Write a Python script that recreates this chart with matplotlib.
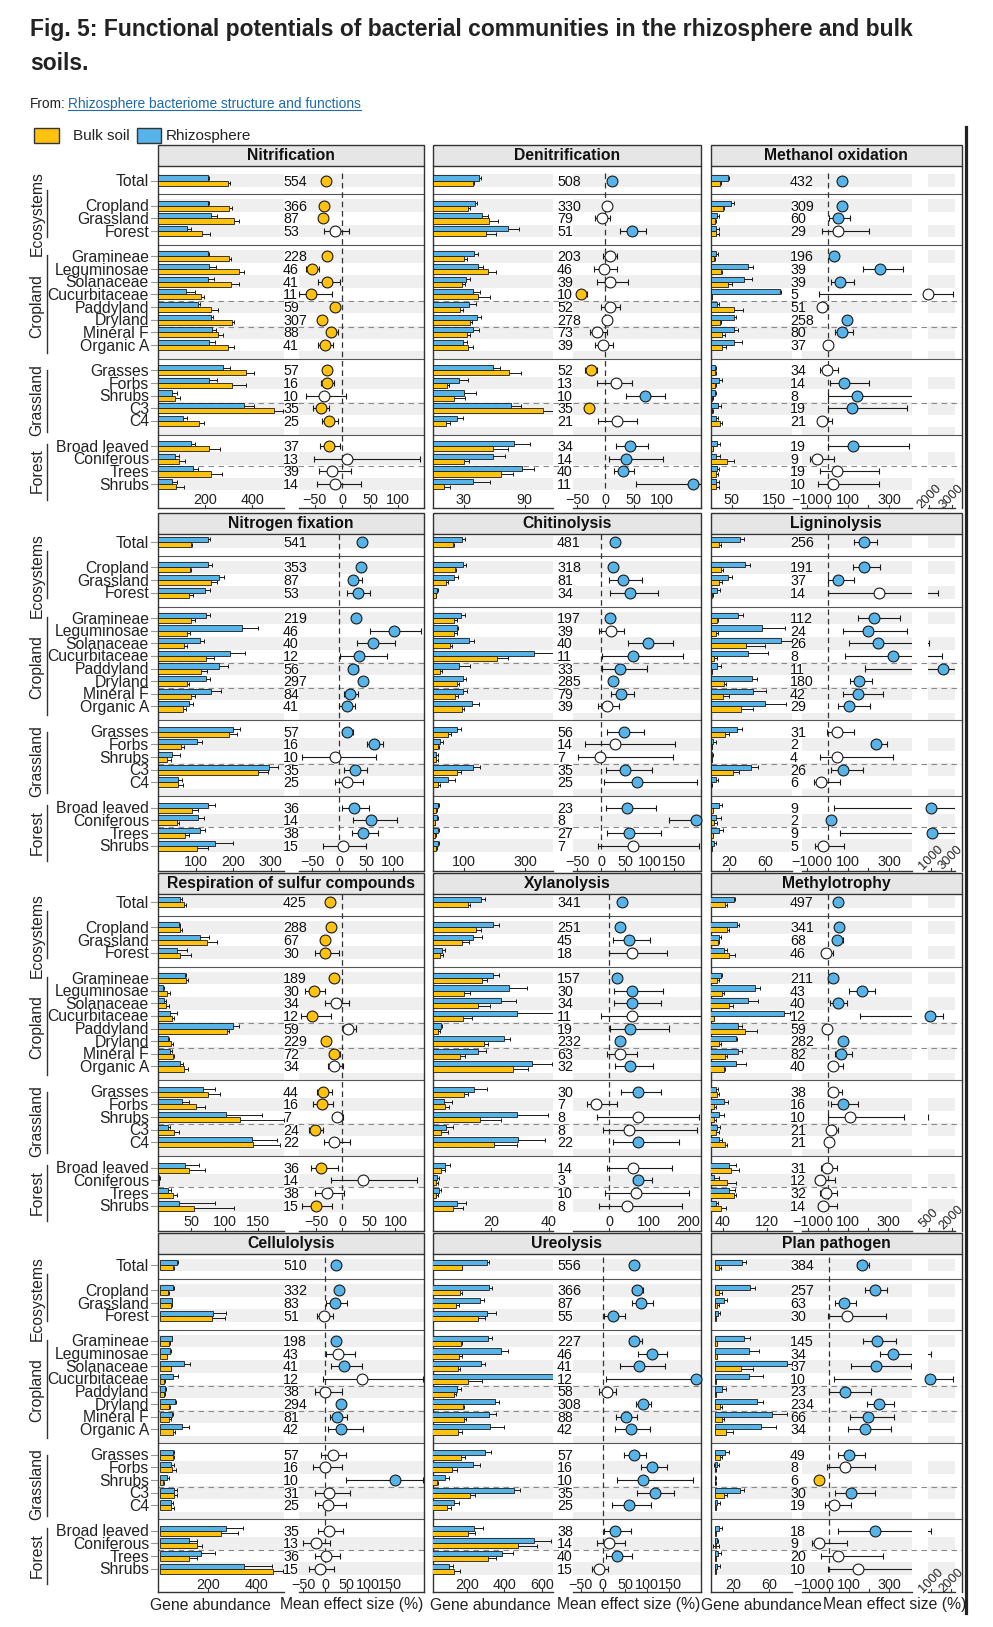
import numpy as np
import matplotlib
matplotlib.use("Agg")
import matplotlib.pyplot as plt
from matplotlib.patches import Rectangle

plt.rcParams["font.family"] = ["Liberation Sans", "DejaVu Sans"]

W, H = 993, 1627
BLUE = "#56B4E9"
GOLD = "#FFC20E"
EDGE = "#1a1a1a"
FRAME = "#333333"
BAND = "#EFEFEF"
STRIP = "#E6E6E6"
LINK = "#1f6aa8"
FILL = {"b": BLUE, "y": GOLD, "w": "white"}

cats = ["Total", "Cropland", "Grassland", "Forest",
        "Gramineae", "Leguminosae", "Solanaceae", "Cucurbitaceae",
        "Paddyland", "Dryland", "Mineral F", "Organic A",
        "Grasses", "Forbs", "Shrubs", "C3", "C4",
        "Broad leaved", "Coniferous", "Trees", "Shrubs"]
ypos = [0, 2, 3, 4, 6, 7, 8, 9, 10, 11, 12, 13, 15, 16, 17, 18, 19, 21, 22, 23, 24]
groups = ["Ecosystems", "Cropland", "Grassland", "Forest"]

# ---- Nitrification
nitri_rz = [214, 214, 225, 125, 210, 218, 214, 118, 169, 224, 228, 218, 275, 217, 59, 363, 108, 139, 70, 148, 59]
nitri_rz_se = [4, 4, 27, 14, 8, 27, 25, 37, 10, 11, 18, 24, 31, 35, 21, 45, 14, 18, 21, 20, 21]
nitri_bk = [296, 303, 320, 186, 299, 345, 310, 183, 225, 315, 256, 296, 372, 315, 73, 492, 172, 218, 87, 225, 77]
nitri_bk_se = [10, 10, 25, 35, 11, 20, 35, 14, 31, 8, 18, 24, 35, 56, 21, 39, 24, 45, 28, 45, 34]
nitri_n = [554, 366, 87, 53, 228, 46, 41, 11, 59, 307, 88, 41, 57, 16, 10, 35, 25, 37, 13, 39, 14]
nitri_eff = [-30, -33, -35, -14, -28, -54, -28, -57, -14, -36, -20, -31, -27, -27, -33, -39, -24, -24, 9, -19, -14]
nitri_lo = [-32, -35, -37, -33, -30, -65, -44, -78, -16, -38, -23, -44, -29, -38, -65, -53, -36, -40, -51, -42, -45]
nitri_hi = [-28, -31, -33, 12, -26, -42, -5, -19, -12, -34, -8, -17, -25, -15, 7, -24, -8, -5, 140, 16, 34]
nitri_sig = "yyywyyyyyyyyyywyyywww"

# ---- Denitrification
den_rz = [45.6, 41.3, 47.9, 74, 40.6, 44.5, 32, 39, 35.4, 43, 39, 29.8, 58.7, 25.6, 30.8, 76.7, 23.3, 80, 58.7, 87.2, 39]
den_rz_se = [2, 2, 6, 11, 4, 5, 4, 7, 7, 4, 6, 4, 7, 8.5, 11, 10, 6.6, 15, 12, 12.5, 17]
den_bk = [39, 34.7, 55, 51.8, 30.8, 53.8, 28.8, 44.6, 26.9, 36.4, 33.1, 34.7, 75, 13.8, 21, 108.5, 12.5, 59.3, 30.8, 66.9, 11.1]
den_bk_se = [1.6, 2, 8.5, 10, 2.3, 8, 2.6, 11.5, 3, 2.3, 3.3, 4.9, 11.5, 2, 10, 13, 4.3, 14, 5, 12, 5.6]
den_n = [508, 330, 79, 51, 203, 46, 39, 10, 52, 278, 73, 39, 52, 13, 10, 35, 21, 34, 14, 40, 11]
den_eff = [11, 3, -7, 47, 8, -2, 8, -43, 8, 3, -15, -4, -26, 18, 71, -29, 20, 44, 37, 31, 157]
den_lo = [8, -1, -19, 26, -4, -21, -16, -50, -8, -2, -27, -19, -36, -15, 37, -35, -13, 19, 7, 15, 54]
den_hi = [14, 8, 8, 73, 20, 21, 41, -33, 26, 10, 2, 14, -15, 48, 107, -23, 57, 75, 102, 50, 170]
den_sig = "bwwbwwwywwwwywbywbbbb"

# ---- Methanol oxidation
meth_rz = [41, 49, 16, 13.5, 13.5, 89, 79, 164, 16, 55, 55, 55, 9.5, 19, 9.5, 17.5, 13.5, 16, 13.5, 16, 13.5]
meth_rz_se = [2.4, 5.6, 4, 6, 3, 12, 19, 3, 3, 5.6, 9.5, 20, 2, 7, 2, 8, 3, 5.6, 9.5, 3, 6]
meth_bk = [21.6, 29.4, 9.5, 13.5, 8, 24, 41, 3, 55, 21.6, 27, 27, 9.5, 9.5, 4, 4, 21.6, 5, 38, 13.5, 13.5]
meth_bk_se = [2, 2, 2, 6, 2, 2, 9.5, 1, 22, 2, 6, 9, 2, 2, 1, 1, 5.5, 1, 18, 3, 6]
meth_n = [432, 309, 60, 29, 196, 39, 39, 5, 51, 258, 80, 37, 34, 14, 8, 19, 21, 19, 9, 19, 10]
meth_eff = [72, 69, 53, 53, 33, 256, 61, 1935, -25, 97, 69, 4, -4, 82, 145, 121, -25, 123, -50, 45, 28]
meth_lo = [62, 60, 6, -26, 25, 172, 15, -40, -35, 88, 37, -5, -37, 12, 0, 0, -45, 0, -86, -37, -45]
meth_hi = [82, 78, 111, 202, 41, 367, 131, 3060, -15, 106, 123, 13, 53, 202, 420, 386, 20, 399, 33, 250, 250]
meth_sig = "bbbwbbbwwbbwwbbbwbwww"

# ---- Nitrogen fixation
nfix_rz = [133, 133, 162, 124, 127, 224, 112, 193, 162, 128, 142, 82, 199, 104, 38, 295, 53, 133, 106, 112, 153]
nfix_rz_se = [5, 10, 15, 14, 11, 42, 11, 40, 24, 10, 25, 11, 20, 13, 20, 24, 10, 20, 16, 12, 46]
nfix_bk = [87, 84, 140, 82, 89, 76, 69, 128, 115, 76, 89, 66, 188, 60, 25, 266, 53, 91, 51, 72, 104]
nfix_bk_se = [4, 5, 16, 10, 9, 9, 7, 20, 16, 6, 9, 9, 22, 9, 10, 27, 14, 15, 4, 10, 28]
nfix_n = [541, 353, 87, 53, 219, 46, 40, 12, 56, 297, 84, 41, 57, 16, 10, 35, 25, 36, 14, 38, 15]
nfix_eff = [41, 40, 26, 35, 31, 101, 63, 36, 26, 44, 20, 14, 14, 64, -8, 29, 14, 27, 59, 44, 7]
nfix_lo = [38, 37, 17, 15, 28, 56, 32, 1, 17, 41, 9, 0, 4, 52, -70, 9, -9, 4, 26, 23, -30]
nfix_hi = [44, 43, 41, 56, 34, 151, 103, 89, 35, 47, 35, 29, 26, 80, 68, 51, 43, 54, 106, 71, 49]
nfix_sig = "bbbbbbbbbbbbbbwbwbbbw"

# ---- Chitinolysis
chit_rz = [93, 96, 69, 14, 91, 77, 117, 329, 84, 99, 96, 126, 79, 23, 10, 131, 48, 17, 14, 15, 15]
chit_rz_se = [11, 10, 13, 3, 13, 5, 17, 78, 36, 8, 13, 24, 12, 11, 5, 22, 24, 2, 2, 4, 4]
chit_bk = [66, 71, 41, 10, 69, 69, 55, 207, 23, 77, 71, 93, 50, 15, 10, 79, 17, 10, 6, 8, 10]
chit_bk_se = [3, 3, 6.5, 1, 7.6, 7.6, 7.6, 38, 5.4, 8.7, 11, 8.7, 8.7, 5, 5, 12, 5, 2, 1, 2, 2]
chit_n = [481, 318, 81, 34, 197, 39, 40, 11, 33, 285, 79, 39, 56, 14, 7, 35, 25, 23, 8, 27, 7]
chit_eff = [28, 25, 44, 60, 18, 20, 96, 66, 39, 25, 40, 11, 48, 29, -3, 49, 73, 53, 196, 57, 66]
chit_lo = [25, 22, 15, 17, 15, -4, 56, 1, 2, 22, 20, -8, 12, -35, -49, 9, 6, 9, 140, 12, -7]
chit_hi = [31, 28, 84, 118, 23, 48, 148, 170, 95, 28, 68, 37, 89, 154, 149, 106, 199, 113, 206, 123, 203]
chit_sig = "bbbbbwbbbbbwbwwbbbbbw"

# ---- Ligninolysis
lig_rz = [32, 38, 18.5, 7, 30, 56, 77, 41, 7, 45, 46, 60, 29, 3, 1.5, 44, 5.5, 9.4, 5.5, 9.4, 3.5]
lig_rz_se = [4.7, 5.5, 4.4, 2.9, 5, 26, 12, 22.5, 4.7, 6, 14.5, 23, 5.5, 3.3, 1, 8.4, 2.5, 3.3, 5.5, 4.4, 1.8]
lig_bk = [9.4, 11, 9, 1.7, 7, 6, 39, 4, 1, 14.5, 13.5, 33, 15.6, 1, 1, 25, 0.5, 2, 3.5, 2, 1]
lig_bk_se = [1.8, 2.5, 3.6, 1, 1, 2.2, 21, 2.9, 0.5, 2.5, 6.5, 13, 4.4, 0.5, 0.5, 6.5, 0.5, 1, 3.6, 1, 0.5]
lig_n = [256, 191, 37, 14, 112, 24, 26, 8, 11, 180, 42, 29, 31, 2, 4, 26, 6, 9, 2, 9, 5]
lig_eff = [178, 178, 53, 253, 228, 196, 245, 321, 2170, 154, 150, 106, 45, 235, 45, 74, -33, 1000, 16, 1130, -20]
lig_lo = [129, 123, 4, 0, 150, 77, 106, 83, 185, 110, 77, 53, -3, 212, -36, 15, -65, 33, 10, 61, -61]
lig_hi = [240, 256, 131, 1730, 352, 386, 840, 2070, 3400, 219, 269, 208, 127, 292, 321, 171, 61, 3400, 22, 3400, 81]
lig_sig = "bbbwbbbbbbbbwbwbwbbbw"

# ---- Respiration of sulfur compounds
resp_rz = [33.5, 31, 62.5, 28.5, 40, 7, 9.5, 18.5, 112, 15, 18.5, 32.5, 67, 36, 102, 14.5, 141, 40, 2, 15, 31]
resp_rz_se = [2.5, 2.5, 13.5, 15, 2.5, 1.5, 2.5, 10, 9, 2, 2.5, 5, 18, 10, 54, 4, 37.5, 22, 0.5, 4.5, 54]
resp_bk = [38.5, 33.5, 73.5, 33.5, 42, 13.5, 12.5, 21, 103.5, 20, 22, 38.5, 74.5, 57, 123.5, 24.5, 142.5, 46, 1.5, 22.5, 54.5]
resp_bk_se = [3.5, 2.5, 15, 16.5, 3, 4, 3.5, 2.5, 3, 2.5, 2.5, 6, 19, 13, 66, 6.5, 40, 24, 0.5, 6, 59]
resp_n = [425, 288, 67, 30, 189, 30, 34, 12, 59, 229, 72, 34, 44, 16, 7, 24, 22, 36, 14, 38, 15]
resp_eff = [-24, -22, -33, -32, -16, -53, -13, -58, 11, -31, -16, -16, -36, -38, -10, -52, -16, -40, 38, -29, -49]
resp_lo = [-26, -24, -35, -51, -18, -70, -33, -79, 1, -33, -24, -28, -48, -55, -20, -63, -35, -60, -22, -52, -76]
resp_hi = [-22, -20, -31, -7, -14, -33, 13, -21, 25, -29, -5, 1, -20, -18, 1, -36, 15, -8, 141, 3, -20]
resp_sig = "yyyyyywywyywyywywywwy"

# ---- Xylanolysis
xyl_rz = [16.6, 20.8, 13.7, 3.2, 20.8, 26.3, 23.4, 28.9, 2.6, 24.5, 15.4, 34, 14.2, 3.9, 29.1, 4.5, 29.4, 4.1, 1.4, 1.9, 8.2]
xyl_rz_se = [1.4, 2, 3.3, 1.1, 2, 6, 5.4, 13.8, 0.4, 2, 2.9, 6.9, 4.6, 2.8, 10.5, 2.5, 9.4, 1.7, 0.6, 0.8, 3.2]
xyl_bk = [12, 15, 9.9, 2.4, 17, 10.8, 15.4, 10.2, 1.8, 17.7, 9.3, 27.7, 10.8, 4.1, 16.2, 2.8, 21.1, 2.8, 1, 1, 7]
xyl_bk_se = [0.8, 1.5, 2.6, 1.1, 1.7, 2, 4.3, 3.4, 0.6, 1.4, 1.7, 5.2, 1.4, 1.4, 7.2, 2.5, 8, 1.4, 0.6, 0.6, 3.4]
xyl_n = [341, 251, 45, 18, 157, 30, 34, 11, 19, 232, 63, 32, 30, 7, 8, 8, 22, 14, 3, 10, 8]
xyl_eff = [31, 27, 50, 58, 20, 58, 58, 56, 52, 27, 27, 52, 71, -34, 71, 49, 71, 60, 71, 66, 44]
xyl_lo = [28, 24, 10, -1, 15, 12, 12, -22, 1, 23, -6, 14, 28, -56, -32, -16, 8, -7, 60, -11, -27]
xyl_hi = [34, 30, 103, 145, 26, 136, 130, 240, 151, 31, 69, 111, 130, 18, 227, 220, 176, 159, 107, 201, 183]
xyl_sig = "bbbwbbbwbbwbbwwwbwbww"

# ---- Methylotrophy
mety_rz = [61, 65, 34, 43, 37, 97, 86, 150, 67, 64, 67, 64, 28, 42, 33, 30, 34, 52, 24, 51, 28]
mety_rz_se = [1.2, 4.8, 2.4, 5.4, 2.4, 10, 18, 10, 7, 2.4, 7, 18, 3.6, 7, 10, 4.8, 4.2, 12, 9, 11, 3]
mety_bk = [44, 47, 31, 52, 30, 39, 52, 24, 80, 34, 44, 42, 30, 24, 24, 28, 44, 55.6, 47, 60, 37]
mety_bk_se = [3, 4.8, 3, 10, 3.6, 3.6, 7, 1, 21, 2.4, 4.2, 3, 4.2, 4.2, 4.8, 4.8, 3, 13, 16, 3, 9]
mety_n = [497, 341, 68, 46, 211, 43, 40, 12, 59, 282, 82, 40, 38, 16, 10, 21, 21, 31, 12, 32, 14]
mety_eff = [47, 53, 42, -12, 22, 167, 50, 540, -8, 72, 63, 25, 25, 72, 108, 15, 5, -5, -42, -12, -28]
mety_lo = [43, 49, 25, -33, 18, 105, 8, 158, -12, 68, 33, 0, 0, 12, 0, -7, -3, -38, -66, -42, -50]
mety_hi = [51, 57, 72, 25, 26, 233, 92, 1430, -4, 76, 117, 75, 67, 150, 378, 50, 13, 45, 33, 42, 42]
mety_sig = "bbbwbbbbwbbwwbwwwwwww"

# ---- Cellulolysis
cel_rz = [69, 55, 48, 221, 48, 41, 99, 52, 21, 62, 48, 90, 52, 46, 30, 58, 44, 272, 121, 170, 349]
cel_rz_se = [4, 3, 3, 51, 3, 3, 25, 21, 3, 3, 7, 28, 5.5, 10, 7, 11, 8, 73, 30, 58, 113]
cel_bk = [55, 34, 44, 217, 37, 28, 44, 17, 17, 39, 39, 52, 52, 48, 14, 58, 46, 252, 152, 121, 466]
cel_bk_se = [4, 3, 4, 50, 3, 3, 3, 3, 3, 3, 5, 10, 7, 20, 4, 14, 12, 72, 23, 30, 44]
cel_n = [510, 332, 83, 51, 198, 43, 41, 12, 38, 294, 81, 42, 57, 16, 10, 31, 25, 35, 13, 36, 15]
cel_eff = [25, 33, 23, -2, 25, 31, 44, 86, 0, 37, 27, 38, 18, 0, 162, 10, 8, 9, -21, 2, -12]
cel_lo = [22, 30, 2, -19, 22, 2, 14, -4, -23, 34, 12, 8, -8, -27, 48, -23, -17, -15, -50, -22, -37]
cel_hi = [28, 36, 50, 19, 28, 69, 86, 227, 40, 40, 50, 88, 48, 40, 227, 58, 48, 42, 12, 35, 22]
cel_sig = "bbbwbwbwwbbbwwbwwwwww"

# ---- Ureolysis
ure_rz = [309, 318, 268, 309, 313, 382, 276, 681, 148, 349, 318, 323, 295, 235, 84, 451, 131, 237, 561, 388, 105]
ure_rz_se = [9, 16, 23, 45, 23, 40, 22, 40, 23, 22, 36, 74, 36, 38, 22, 32, 27, 52, 90, 60, 23]
ure_bk = [172, 163, 142, 262, 168, 160, 151, 204, 130, 180, 185, 151, 171, 121, 40, 219, 94, 204, 471, 313, 131]
ure_bk_se = [5, 9, 14, 36, 7, 13, 13, 76, 14, 5, 13, 22, 22, 29, 9, 25, 23, 40, 103, 45, 31]
ure_n = [556, 366, 87, 55, 227, 46, 41, 12, 58, 308, 88, 42, 57, 16, 10, 35, 25, 38, 14, 40, 15]
ure_eff = [71, 76, 86, 24, 71, 111, 82, 209, 9, 91, 52, 64, 70, 110, 91, 117, 58, 28, 14, 33, -8]
ure_lo = [68, 65, 66, 2, 58, 79, 38, 7, -8, 75, 29, 28, 47, 85, 33, 78, 20, 2, -13, 8, -25]
ure_hi = [74, 91, 112, 49, 89, 145, 139, 219, 30, 108, 78, 106, 98, 145, 204, 160, 108, 63, 49, 65, 12]
ure_sig = "bbbbbbbbwbbbbbbbbbwbw"

# ---- Plan pathogen
pp_rz = [30, 39, 10, 2.6, 32, 37, 80, 37, 7, 46, 63, 51, 11, 1.5, 0.3, 28, 2.3, 4.5, 1.5, 3.5, 2.3]
pp_rz_se = [4, 5, 3.3, 2.6, 7, 12, 5.5, 16, 5.5, 6.7, 17, 17, 4.4, 3, 0.3, 4.4, 3, 3.3, 2, 3, 3]
pp_bk = [4.5, 4.5, 2.3, 0.5, 1.5, 1.5, 29, 0.5, 0.5, 5.5, 7, 12, 5.5, 0.3, 0.3, 10, 0.5, 0.5, 1, 0.5, 0.5]
pp_bk_se = [1.5, 2.6, 2.2, 0.3, 0.5, 0.5, 13, 0.3, 0.3, 1.8, 2.6, 8, 2.6, 0.3, 0.3, 3.3, 0.3, 0.3, 3, 0.3, 0.3]
pp_n = [384, 257, 63, 30, 145, 34, 37, 10, 23, 234, 66, 34, 49, 8, 6, 30, 19, 18, 9, 20, 10]
pp_eff = [167, 230, 75, 92, 238, 322, 233, 950, 80, 252, 197, 182, 102, 80, -48, 108, 27, 230, -50, 47, 147]
pp_lo = [138, 180, 30, -3, 172, 255, 108, 27, 0, 192, 107, 93, 45, -8, -48, 30, -22, 45, -83, -38, -3]
pp_hi = [202, 288, 135, 285, 333, 985, 410, 2115, 212, 325, 327, 310, 182, 230, -48, 230, 108, 985, 88, 270, 425]
pp_sig = "bbbwbbbbbbbbbwybwbwww"

panels = [
    ("Nitrification", nitri_rz, nitri_rz_se, nitri_bk, nitri_bk_se, nitri_n, nitri_eff, nitri_lo, nitri_hi, nitri_sig),
    ("Denitrification", den_rz, den_rz_se, den_bk, den_bk_se, den_n, den_eff, den_lo, den_hi, den_sig),
    ("Methanol oxidation", meth_rz, meth_rz_se, meth_bk, meth_bk_se, meth_n, meth_eff, meth_lo, meth_hi, meth_sig),
    ("Nitrogen fixation", nfix_rz, nfix_rz_se, nfix_bk, nfix_bk_se, nfix_n, nfix_eff, nfix_lo, nfix_hi, nfix_sig),
    ("Chitinolysis", chit_rz, chit_rz_se, chit_bk, chit_bk_se, chit_n, chit_eff, chit_lo, chit_hi, chit_sig),
    ("Ligninolysis", lig_rz, lig_rz_se, lig_bk, lig_bk_se, lig_n, lig_eff, lig_lo, lig_hi, lig_sig),
    ("Respiration of sulfur compounds", resp_rz, resp_rz_se, resp_bk, resp_bk_se, resp_n, resp_eff, resp_lo, resp_hi, resp_sig),
    ("Xylanolysis", xyl_rz, xyl_rz_se, xyl_bk, xyl_bk_se, xyl_n, xyl_eff, xyl_lo, xyl_hi, xyl_sig),
    ("Methylotrophy", mety_rz, mety_rz_se, mety_bk, mety_bk_se, mety_n, mety_eff, mety_lo, mety_hi, mety_sig),
    ("Cellulolysis", cel_rz, cel_rz_se, cel_bk, cel_bk_se, cel_n, cel_eff, cel_lo, cel_hi, cel_sig),
    ("Ureolysis", ure_rz, ure_rz_se, ure_bk, ure_bk_se, ure_n, ure_eff, ure_lo, ure_hi, ure_sig),
    ("Plan pathogen", pp_rz, pp_rz_se, pp_bk, pp_bk_se, pp_n, pp_eff, pp_lo, pp_hi, pp_sig),
]

# axis limits / ticks of each panel
SEG1 = [-100, 0, 100, 200, 300]
axes_set = [
    dict(bar=(0, 534), bt=[200, 400], dot=(-78, 147), dt=[-50, 0, 50, 100]),
    dict(bar=(0, 118), bt=[30, 90], dot=(-58, 169.6), dt=[-50, 0, 50, 100]),
    dict(bar=(0, 192), bt=[50, 150], dot=(-126, 411), dt=SEG1, seg2=(1920, 3147), st=[2000, 3000]),
    dict(bar=(0, 336), bt=[100, 200, 300], dot=(-75, 157), dt=[-50, 0, 50, 100]),
    dict(bar=(0, 390), bt=[100, 300], dot=(-59, 206), dt=[-50, 0, 50, 100, 150]),
    dict(bar=(0, 89), bt=[20, 60], dot=(-126, 411), dt=SEG1, seg2=(650, 3400), st=[1000, 3000]),
    dict(bar=(0, 189), bt=[50, 100, 150], dot=(-82, 154), dt=[-50, 0, 50, 100]),
    dict(bar=(0, 41.4), bt=[20, 40], dot=(-92, 230), dt=[0, 100, 200]),
    dict(bar=(18.5, 163.6), bt=[40, 120], dot=(-133, 417), dt=SEG1, seg2=(373, 2207), st=[500, 2000]),
    dict(bar=(-8.3, 513), bt=[200, 400], dot=(-60, 229), dt=[-50, 0, 50, 100, 150]),
    dict(bar=(20, 660), bt=[200, 400, 600], dot=(-67, 220), dt=[-50, 0, 50, 100, 150]),
    dict(bar=(-5, 85), bt=[20, 60], dot=(-136.5, 413.5), dt=SEG1, seg2=(825, 2200), st=[1000, 2000]),
]

# layout in pixels
U = 12.65
STRIP_H = 20.5
ROW_TOP = [145, 513, 873, 1233]
ROW_Y0 = [180.5, 542, 902, 1265]
ROW_BOT = [508, 871, 1231, 1592]
COLS = [
    dict(left=158, right=424, bar=(158, 284), dot=(299, 424), num=283),
    dict(left=433, right=700.5, bar=(433, 553), dot=(573, 700.5), num=557),
    dict(left=710.5, right=962, bar=(710.7, 791.7), dot=(801.7, 911.7), seg2=(927.5, 955), num=790),
]
SOLID = [1.1, 5.1, 14.1, 20.1]
DASHED = [9.55, 11.55, 17.55, 22.55]
group_mid = [2.65, 9.9, 17.35, 22.95]
group_span = [(0.75, 4.45), (5.9, 13.65), (15.0, 19.85), (20.8, 25.25)]


def fmt(v):
    return str(v).replace("-", "\u2212")


fig = plt.figure(figsize=(W / 100, H / 100), dpi=100)
bg = fig.add_axes([0, 0, 1, 1])
bg.set_xlim(0, W)
bg.set_ylim(H, 0)
bg.axis("off")


def px_axes(x0, x1, y0, y1):
    ax = fig.add_axes([x0 / W, 1 - y1 / H, (x1 - x0) / W, (y1 - y0) / H])
    ax.axis("off")
    return ax


def ticks(ax, tv, ybot, ylab, rotate=False, skip=()):
    for t in tv:
        ax.plot([t, t], [ybot, ybot - 0.25], color=FRAME, lw=0.8, clip_on=False)
        if t in skip:
            continue
        if rotate:
            ax.text(t, ylab - 0.6, fmt(t), rotation=45, ha="center", va="center",
                    fontsize=9.3, color="#222222", clip_on=False)
        else:
            ax.text(t, ylab, fmt(t), ha="center", va="baseline", fontsize=10.4,
                    color="#222222", clip_on=False)


yy = np.array(ypos, dtype=float)

for k, (title, rz, rz_se, bk, bk_se, nn, eff, lo, hi, sig) in enumerate(panels):
    r, c = divmod(k, 3)
    col = COLS[c]
    lay = axes_set[k]
    st, y0, pb = ROW_TOP[r], ROW_Y0[r], ROW_BOT[r]
    top = st + STRIP_H
    yt, yb = (top - y0) / U, (pb - y0) / U
    ylab = 24 + 20 / U
    left, right = col["left"], col["right"]

    bg.add_patch(Rectangle((left, st), right - left, STRIP_H, fc=STRIP, ec=FRAME, lw=1.0, zorder=3))
    bg.text((left + right) / 2, st + STRIP_H / 2 + 0.5, title, ha="center", va="center",
            fontsize=11.3, fontweight="bold", color="#111111", zorder=4)
    bg.plot([left, left], [top, pb], color=FRAME, lw=1.0, zorder=3)
    bg.plot([right, right], [top, pb], color=FRAME, lw=1.0, zorder=3)

    sections = [col["bar"], col["dot"]] + ([col["seg2"]] if "seg2" in lay else [])
    for u in range(0, 25, 2):
        u1 = u + 0.1 if u in (14, 20) else u + 0.5
        for sx0, sx1 in sections:
            bg.add_patch(Rectangle((sx0, y0 + (u - 0.5) * U), sx1 - sx0, (u1 - u + 0.5) * U,
                                   fc=BAND, ec="none", zorder=1))
    for s in SOLID:
        bg.plot([left, right], [y0 + s * U] * 2, color="#555555", lw=0.8, zorder=2)
    for s in DASHED:
        bg.plot([left, right], [y0 + s * U] * 2, color="#8a8a8a", lw=0.8, ls=(0, (5, 4)), zorder=2)
    for sx0, sx1 in sections:
        bg.plot([sx0, sx1], [pb, pb], color=FRAME, lw=1.0, zorder=3)
    for u, n in zip(ypos, nn):
        bg.text(col["num"], y0 + u * U + 5.0, str(n), ha="left", va="baseline",
                fontsize=10.3, color="#111111", zorder=4)

    # gene abundance bars
    bx = px_axes(col["bar"][0], col["bar"][1], top, pb)
    bx.set_xlim(*lay["bar"])
    bx.set_ylim(yb, yt)
    bx.errorbar(rz, yy - 0.2, xerr=rz_se, fmt="none", ecolor=EDGE, elinewidth=0.7,
                capsize=1.7, capthick=0.7, zorder=2)
    bx.errorbar(bk, yy + 0.2, xerr=bk_se, fmt="none", ecolor=EDGE, elinewidth=0.7,
                capsize=1.7, capthick=0.7, zorder=2)
    bx.barh(yy - 0.2, rz, height=0.4, color=BLUE, edgecolor=EDGE, linewidth=0.6, zorder=3)
    bx.barh(yy + 0.2, bk, height=0.4, color=GOLD, edgecolor=EDGE, linewidth=0.6, zorder=3)
    ticks(bx, lay["bt"], yb, ylab)

    # effect sizes
    d1 = px_axes(col["dot"][0], col["dot"][1], top, pb)
    d1.set_xlim(*lay["dot"])
    d1.plot([0, 0], [-0.6, 24.6], color=FRAME, lw=0.9, ls=(0, (4.5, 3)), zorder=2)
    dots = [d1]
    ticks(d1, lay["dt"], yb, ylab, skip=(200,) if "seg2" in lay else ())
    if "seg2" in lay:
        d2 = px_axes(col["seg2"][0], col["seg2"][1], top, pb)
        d2.set_xlim(*lay["seg2"])
        ticks(d2, lay["st"], yb, ylab, rotate=True)
        dots.append(d2)
    for ax in dots:
        ax.set_ylim(yb, yt)
        xa, xb = ax.get_xlim()
        ax.hlines(yy, lo, hi, color=EDGE, lw=0.8, zorder=3)
        ax.vlines(lo, yy - 0.24, yy + 0.24, color=EDGE, lw=0.8, zorder=3)
        ax.vlines(hi, yy - 0.24, yy + 0.24, color=EDGE, lw=0.8, zorder=3)
        for e, u, s in zip(eff, yy, sig):
            if xa <= e <= xb:
                ax.plot(e, u, "o", ms=7.8, mfc=FILL[s], mec=EDGE, mew=0.8, zorder=5, clip_on=False)

# row labels on the left
for r in range(4):
    y0 = ROW_Y0[r]
    for g, m, (a, b) in zip(groups, group_mid, group_span):
        bg.text(37, y0 + m * U, g, rotation=90, ha="center", va="center", fontsize=11.3, color="#222222")
        bg.plot([47, 47], [y0 + a * U, y0 + b * U], color=FRAME, lw=1.0)
    for u, name in zip(ypos, cats):
        bg.text(149, y0 + u * U + 5.6, name, ha="right", va="baseline", fontsize=11.3, color="#222222")
        bg.plot([151, 157], [y0 + u * U] * 2, color="#999999", lw=0.8)

# x-axis titles
for xc in (210, 490, 761):
    bg.text(xc, 1605, "Gene abundance", ha="center", va="center", fontsize=11.3, color="#222222")
for xc in (352, 628.5, 894.7):
    bg.text(xc, 1605, "Mean effect size (%)", ha="center", va="center", fontsize=11.3, color="#222222")

# legend
bg.add_patch(Rectangle((34, 128), 25, 15, fc=GOLD, ec=FRAME, lw=1.0))
bg.text(73, 136, "Bulk soil", ha="left", va="center", fontsize=11, color="#222222")
bg.add_patch(Rectangle((137, 128), 24, 15, fc=BLUE, ec=FRAME, lw=1.0))
bg.text(166, 136, "Rhizosphere", ha="left", va="center", fontsize=11, color="#222222")

# right edge line
bg.plot([965.5, 965.5], [127, 1613], color="#222222", lw=2.3)

# header
bg.text(30, 36, "Fig. 5: Functional potentials of bacterial communities in the rhizosphere and bulk",
        ha="left", va="baseline", fontsize=16.5, fontweight="bold", color="#222222")
bg.text(30, 69.5, "soils.", ha="left", va="baseline", fontsize=16.5, fontweight="bold", color="#222222")
bg.text(30, 107.5, "From:", ha="left", va="baseline", fontsize=9.9, color="#222222")
link = bg.text(68, 107.5, "Rhizosphere bacteriome structure and functions", ha="left",
               va="baseline", fontsize=9.9, color=LINK)
fig.canvas.draw()
bb = link.get_window_extent()
inv = bg.transData.inverted()
(lx0, _), (lx1, _) = inv.transform([[bb.x0, bb.y0], [bb.x1, bb.y0]])
bg.plot([lx0, lx1], [109.8, 109.8], color=LINK, lw=0.8)

fig.savefig("out.png", dpi=100)
